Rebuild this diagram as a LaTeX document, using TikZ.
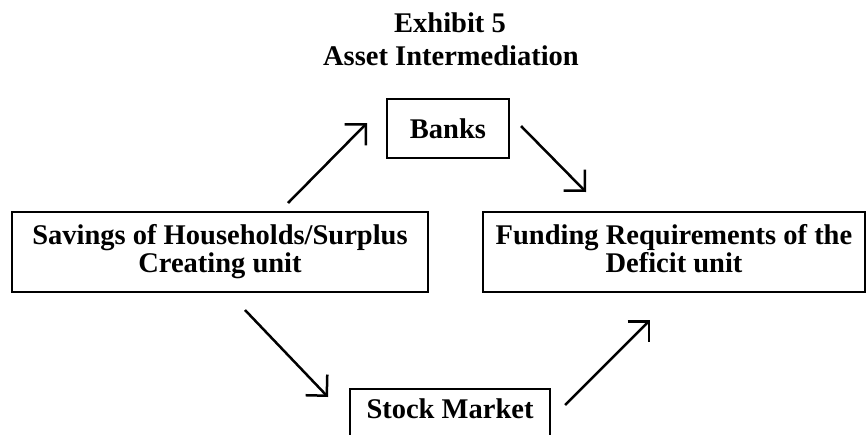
\documentclass[tikz,border=0pt]{standalone}
\usepackage{fontspec}
\setmainfont{Liberation Serif}
\usetikzlibrary{arrows.meta}
\begin{document}
\begin{tikzpicture}[x=1pt,y=-1pt,
  txt/.style={font=\fontsize{28.5}{28}\selectfont\bfseries},
  box/.style={txt, draw, line width=2.4pt, align=center, inner sep=0pt},
  ttl/.style={txt, anchor=base, inner sep=0pt},
  flow/.style={line width=2.5pt, -{Straight Barb[length=15pt,width=30pt]}}]
\useasboundingbox (0,0) rectangle (866,434);
\clip (0,0) rectangle (866,434);
\node[ttl] (t1) at (450,32) {Exhibit 5};
\node[ttl] (t2) at (451,65) {Asset Intermediation};
\node[box, minimum width=122pt, minimum height=59pt] (banks) at (448,128.5) {Banks};
\node[box, minimum width=416pt, minimum height=80pt] (sav) at (220,252)
  {Savings of Households/Surplus\\Creating unit};
\node[box, minimum width=382pt, minimum height=80pt] (fund) at (674,252)
  {Funding Requirements of the\\Deficit unit\vphantom{g}};
\node[box, anchor=north, minimum width=200pt, inner ysep=9pt, text height=20pt, text depth=30pt] (stock) at (450,388)
  {Stock Market};
\coordinate (a1) at (288,203); \coordinate (a2) at (367,123);
\coordinate (b1) at (521,126); \coordinate (b2) at (586,192);
\coordinate (c1) at (245,310); \coordinate (c2) at (328,397);
\coordinate (d1) at (565,405); \coordinate (d2) at (650,320);
\draw[flow] (a1) -- (a2);
\draw[flow] (b1) -- (b2);
\draw[flow] (c1) -- (c2);
\draw[flow] (d1) -- (d2);
\end{tikzpicture}
\end{document}
